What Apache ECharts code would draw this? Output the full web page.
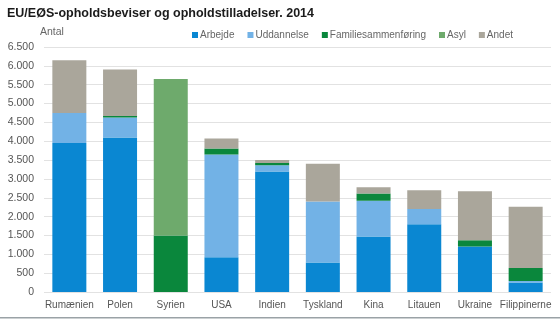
<!DOCTYPE html>
<html><head><meta charset="utf-8">
<script src="https://cdn.jsdelivr.net/npm/echarts@6/dist/echarts.min.js"></script>
<style>html,body{margin:0;padding:0;background:#fff}#c{width:560px;height:321px}</style>
</head><body><div id="c"></div>
<script>
var categories = ['Rumænien','Polen','Syrien','USA','Indien','Tyskland','Kina','Litauen','Ukraine','Filippinerne'];
var arbejde = [3950, 4100, 0, 920, 3200, 780, 1470, 1800, 1210, 250];
var uddannelse = [800, 530, 0, 2730, 160, 1620, 950, 400, 0, 45];
var familie = [0, 40, 1500, 160, 60, 0, 190, 0, 160, 345];
var asyl = [0, 0, 4150, 0, 0, 0, 0, 0, 0, 0];
var andet = [1400, 1230, 0, 260, 80, 1000, 170, 500, 1300, 1620];
var yTicks = [0, 6500, 500];
var names = ['Arbejde','Uddannelse','Familiesammenføring','Asyl','Andet'];
var colors = ['#0a87d2','#72b2e6','#0a873c','#6eaa6c','#aaa69b'];
var dataSets = [arbejde, uddannelse, familie, asyl, andet];
var font = '"Liberation Sans", Arial, sans-serif';

var chart = echarts.init(document.getElementById('c'));
chart.setOption({
  animation: false,
  textStyle: {fontFamily: font},
  title: {
    text: 'EU/EØS-opholdsbeviser og opholdstilladelser. 2014',
    left: 2, top: 2,
    textStyle: {fontSize: 12.5, fontWeight: 'bold', color: '#1a1a1a', fontFamily: font}
  },
  legend: {
    data: names, top: 25, left: 187, width: 370, itemWidth: 6, itemHeight: 6, itemGap: 13,
    icon: 'rect',
    textStyle: {fontSize: 10, color: '#666', padding: [0,0,0,-3], fontFamily: font}
  },
  grid: {left: 44, right: 9, top: 47, bottom: 29},
  xAxis: {
    type: 'category', data: categories,
    axisLine: {show: false}, axisTick: {show: false},
    axisLabel: {color: '#555', fontSize: 10, margin: 8, interval: 0, fontFamily: font}
  },
  yAxis: {
    type: 'value', min: yTicks[0], max: yTicks[1], interval: yTicks[2],
    name: 'Antal', nameLocation: 'end', nameGap: 9,
    nameTextStyle: {color: '#666', fontSize: 10.5, align: 'left', padding: [0,0,0,-4], fontFamily: font},
    axisLabel: {color: '#555', fontSize: 10.5, margin: 10, fontFamily: font,
      formatter: function(v){ return String(v).replace(/\B(?=(\d{3})+(?!\d))/g, '.'); }},
    splitLine: {lineStyle: {color: '#e2e2e2'}},
    axisLine: {show: false}, axisTick: {show: false}
  },
  graphic: [{type: 'rect', shape: {x: 0, y: 317, width: 560, height: 1.5}, style: {fill: '#9aa2a6'}}],
  series: names.map(function(n, i){
    return {name: n, type: 'bar', stack: 'a', data: dataSets[i], barWidth: 34,
      itemStyle: {color: colors[i]}};
  })
});
</script></body></html>
